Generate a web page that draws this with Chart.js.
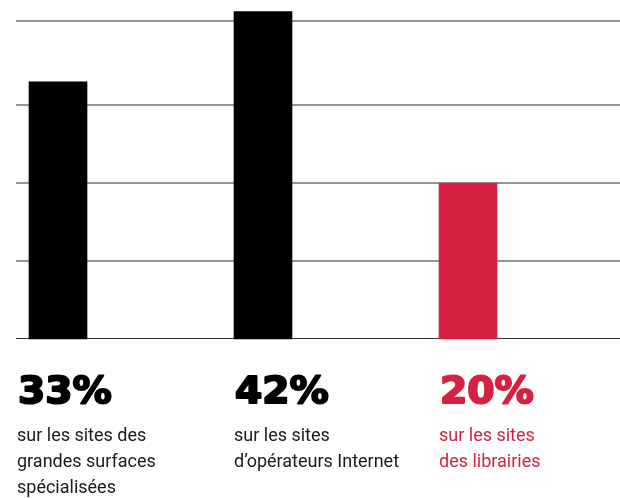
<!DOCTYPE html>
<html>
<head>
<meta charset="utf-8">
<script src="https://cdn.jsdelivr.net/npm/chart.js@4"></script>
<style>
  html, body { margin: 0; padding: 0; background: #fff; }
  #wrap { width: 620px; height: 498px; }
</style>
</head>
<body>
<div id="wrap"><canvas id="c"></canvas></div>
<script>
const categories = ['grandes surfaces', 'opérateurs Internet', 'librairies'];
const values = [33, 42, 20];
const pctLabels = ['33%', '42%', '20%'];
const captions = [
  ['sur les sites des', 'grandes surfaces', 'spécialisées'],
  ['sur les sites', 'd\u2019opérateurs Internet'],
  ['sur les sites', 'des librairies']
];
const gridTicks = [10, 20, 30, 40.8];
const yMax = 40.8;

const BLACK = '#000000';
const RED = '#d52243';
const barColors = [BLACK, BLACK, RED];
const textColors = ['#1a1a1a', '#1a1a1a', RED];

// horizontal rules across the whole width, drawn from the y scale
const fullGrid = {
  id: 'fullGrid',
  beforeDatasetsDraw(chart) {
    const { ctx } = chart;
    const y = chart.scales.y;
    ctx.save();
    ctx.strokeStyle = '#727272';
    ctx.lineWidth = 1.5;
    gridTicks.forEach(v => {
      const py = Math.round(y.getPixelForValue(v));
      ctx.beginPath();
      ctx.moveTo(16, py);
      ctx.lineTo(620, py);
      ctx.stroke();
    });
    // baseline
    const by = Math.round(y.getPixelForValue(0)) - 0.5;
    ctx.strokeStyle = '#333333';
    ctx.lineWidth = 1;
    ctx.beginPath();
    ctx.moveTo(16, by);
    ctx.lineTo(620, by);
    ctx.stroke();
    ctx.restore();
  }
};

const captionsPlugin = {
  id: 'captions',
  afterDatasetsDraw(chart) {
    const { ctx } = chart;
    const bars = chart.getDatasetMeta(0).data;
    ctx.save();
    ctx.textBaseline = 'alphabetic';
    ctx.textAlign = 'left';
    bars.forEach((bar, i) => {
      const left = bar.x - bar.width / 2;
      const x = i === 0 ? left - 12 : left;
      // big heavy percentage
      ctx.save();
      ctx.translate(x + 1, 403);
      ctx.scale(1.06, 1);
      ctx.font = 'bold 37px "DejaVu Sans"';
      ctx.fillStyle = barColors[i];
      ctx.strokeStyle = barColors[i];
      ctx.lineWidth = 2;
      ctx.lineJoin = 'round';
      ctx.fillText(pctLabels[i], 0, 0);
      ctx.strokeText(pctLabels[i], 0, 0);
      ctx.restore();
      ctx.fillStyle = textColors[i];
      ctx.font = '18px Roboto';
      captions[i].forEach((line, k) => {
        ctx.fillText(line, x, 441 + k * 26);
      });
    });
    ctx.restore();
  }
};

new Chart(document.getElementById('c'), {
  type: 'bar',
  data: {
    labels: categories,
    datasets: [{
      data: values,
      backgroundColor: barColors,
      borderWidth: 0,
      barThickness: 58,
      clip: false
    }]
  },
  options: {
    responsive: true,
    maintainAspectRatio: false,
    animation: false,
    layout: { padding: { left: 58, right: 152, top: 21, bottom: 159 } },
    plugins: { legend: { display: false }, tooltip: { enabled: false } },
    scales: {
      x: { display: false, offset: false },
      y: { display: false, min: 0, max: yMax }
    }
  },
  plugins: [fullGrid, captionsPlugin]
});
</script>
</body>
</html>
